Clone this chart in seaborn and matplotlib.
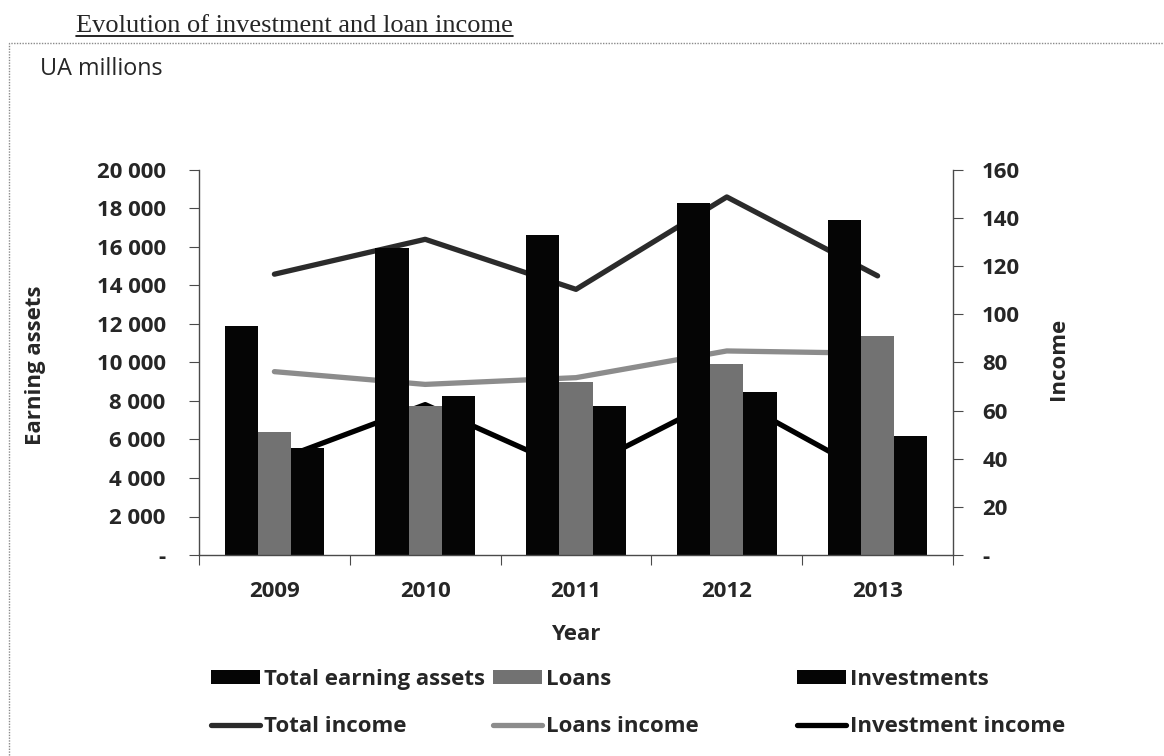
import numpy as np
import pandas as pd
import matplotlib
matplotlib.use("Agg")
import matplotlib.pyplot as plt
from matplotlib.lines import Line2D
from matplotlib.patches import Rectangle
from matplotlib.ticker import FixedLocator, FuncFormatter
import seaborn as sns

# ---- data (UA millions) ----
years = ["2009", "2010", "2011", "2012", "2013"]
total_earning_assets = [11900, 15950, 16600, 18300, 17400]
loans = [6370, 7750, 8970, 9900, 11400]
investments = [5540, 8240, 7750, 8480, 6200]

total_income = [116.7, 131.2, 110.4, 148.8, 116.0]
loans_income = [76.2, 70.9, 73.7, 84.8, 83.8]
investment_income = [39.0, 62.5, 34.5, 66.5, 32.0]

bar_names = ["Total earning assets", "Loans", "Investments"]
line_names = ["Total income", "Loans income", "Investment income"]

bars_df = pd.DataFrame({
    "Year": years * 3,
    "series": np.repeat(bar_names, len(years)),
    "value": total_earning_assets + loans + investments,
})
lines_df = pd.DataFrame({
    "pos": list(range(len(years))) * 3,
    "series": np.repeat(line_names, len(years)),
    "value": total_income + loans_income + investment_income,
})

sns.set_style("white")
SANS = ["Open Sans", "DejaVu Sans"]
plt.rcParams["font.family"] = SANS
FS = 16

W, H = 1164, 756
fig = plt.figure(figsize=(W / 100, H / 100), dpi=100)
x0, x1, ytop, ybot = 199, 953, 170, 555
ax = fig.add_axes([x0 / W, 1 - ybot / H, (x1 - x0) / W, (ybot - ytop) / H])
ax2 = ax.twinx()

bar_colors = {"Total earning assets": "#050505", "Loans": "#727272", "Investments": "#050505"}
line_colors = {"Total income": "#2b2b2b", "Loans income": "#8c8c8c", "Investment income": "#000000"}

sns.barplot(data=bars_df, x="Year", y="value", hue="series", hue_order=bar_names,
            palette=bar_colors, width=0.66, saturation=1, errorbar=None,
            linewidth=0, ax=ax)
sns.lineplot(data=lines_df, x="pos", y="value", hue="series", hue_order=line_names,
             palette=line_colors, linewidth=3.8, ax=ax2)

bar_handles, bar_labels = ax.get_legend_handles_labels()
line_handles, line_labels = ax2.get_legend_handles_labels()
ax.get_legend().remove()
ax2.get_legend().remove()

# bars sit in front of the income lines
ax.set_zorder(ax2.get_zorder() + 1)
ax.patch.set_visible(False)

# left axis: earning assets
ax.set_xlim(-0.5, 4.5)
ax.set_ylim(0, 20000)
ax.yaxis.set_major_locator(FixedLocator(np.arange(0, 20001, 2000)))
ax.yaxis.set_major_formatter(FuncFormatter(
    lambda v, p: "-" if v == 0 else f"{int(v):,}".replace(",", " ")))
# right axis: income
ax2.set_ylim(0, 160)
ax2.yaxis.set_major_locator(FixedLocator(np.arange(0, 161, 20)))
ax2.yaxis.set_major_formatter(FuncFormatter(lambda v, p: "-" if v == 0 else f"{int(v)}"))

spine_c = "#4a4a4a"
for a in (ax, ax2):
    for s in a.spines.values():
        s.set_visible(False)
ax.spines["left"].set_visible(True)
ax.spines["bottom"].set_visible(True)
ax2.spines["right"].set_visible(True)
for s in (ax.spines["left"], ax.spines["bottom"], ax2.spines["right"]):
    s.set_color(spine_c)
    s.set_linewidth(1.0)

ax.tick_params(axis="y", left=True, length=7, width=0.8, color=spine_c,
               labelsize=FS, pad=17)
ax2.tick_params(axis="y", right=True, length=7, width=0.8, color=spine_c,
                labelsize=FS, pad=14)
ax.tick_params(axis="x", which="major", length=0, labelsize=FS, pad=19)
ax.set_xticks(np.arange(-0.5, 4.6, 1), minor=True)
ax.tick_params(axis="x", which="minor", bottom=True, length=7, width=0.8, color=spine_c)
for lab in ax.get_xticklabels() + ax.get_yticklabels() + ax2.get_yticklabels():
    lab.set_fontweight("bold")

ax.set_xlabel("Year", fontsize=FS, fontweight="bold")
ax.xaxis.set_label_coords(0.5, -0.178)
ax.set_ylabel("Earning assets", fontsize=FS, fontweight="bold")
ax.yaxis.set_label_coords(-0.203, 0.494)
ax2.set_ylabel("Income", fontsize=FS, fontweight="bold", rotation=90)
ax2.yaxis.set_label_coords(1.126, 0.51)

# legends: three columns, bars on first row, lines on second
col_x = [211, 493, 797]
for i, cx in enumerate(col_x):
    fig.legend([bar_handles[i], line_handles[i]], [bar_labels[i], line_labels[i]],
               loc="upper left", bbox_to_anchor=(cx / W, 1 - 669 / H),
               frameon=False, ncol=1, handlelength=2.2, handleheight=0.55,
               handletextpad=0.2, labelspacing=1.17, borderpad=0, borderaxespad=0,
               prop={"family": SANS, "size": FS, "weight": "bold"})

# outer dotted frame
fig.add_artist(Rectangle((9 / W, -0.05), 1.2, 1 - 43 / H + 0.05,
                         transform=fig.transFigure, fill=False,
                         edgecolor="#8a8a8a", linewidth=1.0, linestyle=(0, (1, 1))))

fig.text(40 / W, 1 - 75 / H, "UA millions", fontsize=16.8, fontweight="normal",
         va="baseline", ha="left")

title = fig.text(76 / W, 1 - 32 / H, "Evolution of investment and loan income",
                 fontsize=19, family="Liberation Serif", fontweight="normal",
                 va="baseline", ha="left")
fig.canvas.draw()
bb = title.get_window_extent()
fig.add_artist(Line2D([bb.x0 / W, bb.x1 / W], [1 - 36 / H, 1 - 36 / H],
                      transform=fig.transFigure, color="black", linewidth=1.2))

fig.savefig("out.png", dpi=100, facecolor="white")
